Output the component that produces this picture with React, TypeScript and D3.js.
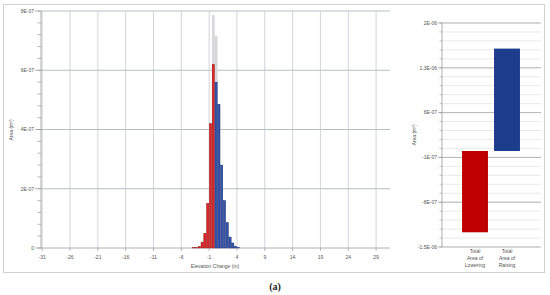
import React from "react";
import * as d3 from "d3";

// ---- Data ----
const binStarts = [-4, -3.5, -3, -2.5, -2, -1.5, -1, -0.5, 0, 0.5, 1, 1.5, 2, 2.5, 3, 3.5, 4];
const binWidth = 0.5;
const loweringArea = [0.01e-7, 0.02e-7, 0.05e-7, 0.2e-7, 0.5e-7, 1.5e-7, 4.2e-7, 6.2e-7, 0, 0, 0, 0, 0, 0, 0, 0, 0];
const raisingArea = [0, 0, 0, 0, 0, 0, 0, 0, 5.6e-7, 4.85e-7, 2.8e-7, 1.6e-7, 0.86e-7, 0.37e-7, 0.17e-7, 0.06e-7, 0.02e-7];
const totalArea = [0.01e-7, 0.02e-7, 0.05e-7, 0.2e-7, 0.5e-7, 1.5e-7, 4.2e-7, 7.85e-7, 7.15e-7, 4.85e-7, 2.8e-7, 1.6e-7, 0.86e-7, 0.37e-7, 0.17e-7, 0.06e-7, 0.02e-7];

const xTicks = [-31, -26, -21, -16, -11, -6, -1, 4, 9, 14, 19, 24, 29];
const yTicksLeft = [0, 2e-7, 4e-7, 6e-7, 8e-7];
const yTickLabelsLeft = ["0", "2E-07", "4E-07", "6E-07", "8E-07"];

const categories = ["Lowering", "Raising"];
const categoryLabels = [["Total", "Area of", "Lowering"], ["Total", "Area of", "Raising"]];
const totals = [-1.27e-6, 1.6e-6];
const yTicksRight = [-1.5e-6, -8e-7, -1e-7, 6e-7, 1.3e-6, 2e-6];
const yTickLabelsRight = ["-1.5E-06", "-8E-07", "-1E-07", "6E-07", "1.3E-06", "2E-06"];

const FONT = "'Liberation Sans', Arial, sans-serif";
const LABEL = "#555";

export default function App() {
  // left histogram
  const x = d3.scaleLinear().domain([-31.3, 31.5]).range([40.5, 390]);
  const y = d3.scaleLinear().domain([0, 8e-7]).range([248, 11]);
  const yMinor = d3.range(0, 8e-7 + 1e-12, 0.4e-7);

  // right panel
  const xb = d3.scaleBand().domain(categories).range([459, 523]).paddingInner(0.19).paddingOuter(0.095);
  const yr = d3.scaleLinear().domain([-1.5e-6, 2e-6]).range([247, 23]);
  const yrMinor = d3.range(-1.5e-6, 2e-6 + 1e-12, 1.4e-7);
  const colorsR = ["#c00000", "#1c3c8c"];

  const barRect = (v: number, i: number, fill: string, stroke: string, key: string) => {
    if (!v) return null;
    const x0 = x(binStarts[i]) + 0.25;
    const x1 = x(binStarts[i] + binWidth) - 0.25;
    return (
      <rect key={key} x={x0} y={y(v)} width={Math.max(0.5, x1 - x0)} height={y(0) - y(v)}
        fill={fill} stroke={stroke} strokeWidth={0.4} />
    );
  };

  return (
    <svg width={550} height={295} style={{ position: "absolute", left: 0, top: 0, background: "#fff" }}>
      {/* outer frame */}
      <rect x={3.5} y={4.5} width={541} height={268} fill="#fff" stroke="#d0d0d0" strokeWidth={1} />

      {/* left: minor ticks */}
      {yMinor.map((v, i) => (
        <line key={"lm" + i} x1={37.5} x2={41} y1={y(v)} y2={y(v)} stroke="#888" strokeWidth={0.6} />
      ))}
      {/* left: horizontal grid */}
      {yTicksLeft.map((v, i) => (
        <g key={"ly" + i}>
          {i > 0 && <line x1={41} x2={390} y1={y(v)} y2={y(v)} stroke="#a4acb6" strokeWidth={0.8} />}
          <line x1={35} x2={41} y1={y(v)} y2={y(v)} stroke="#888" strokeWidth={0.6} />
          <text x={34} y={y(v)} dy="0.35em" textAnchor="end" fontSize={5} fontFamily={FONT} fill={LABEL}>
            {yTickLabelsLeft[i]}
          </text>
        </g>
      ))}
      {/* left: vertical grid */}
      {xTicks.map((t, i) => (
        <g key={"lx" + i}>
          <line x1={x(t)} x2={x(t)} y1={11} y2={248} stroke="#c6c9cf" strokeWidth={0.8} />
          <line x1={x(t)} x2={x(t)} y1={248} y2={251} stroke="#888" strokeWidth={0.6} />
          <text x={x(t)} y={257} dy="0.35em" textAnchor="middle" fontSize={5} fontFamily={FONT} fill={LABEL}>
            {t}
          </text>
        </g>
      ))}
      {/* axes lines */}
      <line x1={41} x2={41} y1={11} y2={248} stroke="#999" strokeWidth={0.8} />
      <line x1={41} x2={390} y1={248} y2={248} stroke="#999" strokeWidth={0.8} />

      {/* histogram bars */}
      {totalArea.map((v, i) => barRect(v, i, "#d9d9d9", "#cfcfcf", "t" + i))}
      {loweringArea.map((v, i) => barRect(v, i, "#d8262b", "#9a1010", "l" + i))}
      {raisingArea.map((v, i) => barRect(v, i, "#3454a8", "#1c2f78", "r" + i))}

      <text x={215} y={266} dy="0.35em" textAnchor="middle" fontSize={5} fontFamily={FONT} fill={LABEL}>
        Elevation Change (m)
      </text>
      <text transform={`translate(11,130) rotate(-90)`} textAnchor="middle" dy="0.35em" fontSize={5} fontFamily={FONT} fill={LABEL}>
        Area (m²)
      </text>

      {/* right panel grid */}
      {yrMinor.map((v, i) => (
        <g key={"rm" + i}>
          <line x1={442} x2={541} y1={yr(v)} y2={yr(v)} stroke="#dcdcdc" strokeWidth={0.6} />
          <line x1={439.5} x2={442} y1={yr(v)} y2={yr(v)} stroke="#888" strokeWidth={0.5} />
        </g>
      ))}
      {yTicksRight.map((v, i) => (
        <g key={"ry" + i}>
          <line x1={442} x2={541} y1={yr(v)} y2={yr(v)} stroke="#a8a8a8" strokeWidth={0.8} />
          <line x1={438} x2={442} y1={yr(v)} y2={yr(v)} stroke="#888" strokeWidth={0.6} />
          <text x={437} y={yr(v)} dy="0.35em" textAnchor="end" fontSize={5} fontFamily={FONT} fill={LABEL}>
            {yTickLabelsRight[i]}
          </text>
        </g>
      ))}
      <line x1={442} x2={442} y1={23} y2={247} stroke="#999" strokeWidth={0.8} />

      {totals.map((v, i) => (
        <rect key={"tb" + i} x={xb(categories[i])} width={xb.bandwidth()}
          y={Math.min(yr(0), yr(v))} height={Math.abs(yr(v) - yr(0))} fill={colorsR[i]} />
      ))}
      {categoryLabels.map((lines, i) => (
        <text key={"cl" + i} textAnchor="middle" fontSize={5} fontFamily={FONT} fill={LABEL}>
          {lines.map((s, j) => (
            <tspan key={j} x={(xb(categories[i]) as number) + xb.bandwidth() / 2} y={252.5 + j * 7.3}>{s}</tspan>
          ))}
        </text>
      ))}
      <text transform={`translate(414,135) rotate(-90)`} textAnchor="middle" dy="0.35em" fontSize={5} fontFamily={FONT} fill={LABEL}>
        Area (m²)
      </text>

      <text x={275} y={290} textAnchor="middle" fontSize={10} fontWeight="bold" fontFamily="'Liberation Serif', 'Times New Roman', serif" fill="#222">
        (a)
      </text>
    </svg>
  );
}
